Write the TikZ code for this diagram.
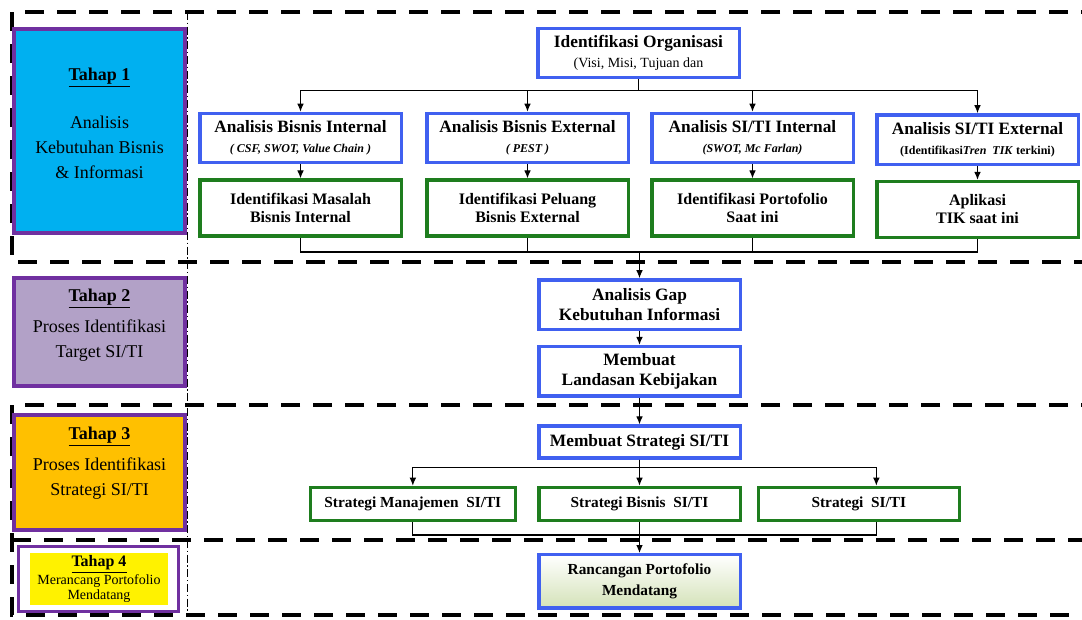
\documentclass[tikz,border=0pt]{standalone}
\usepackage{fontspec}
\setmainfont{Liberation Serif}
\usepackage{xcolor}
\usepackage{tikz}
\usetikzlibrary{arrows.meta,calc,positioning}
\definecolor{boxblue}{RGB}{64,96,240}
\definecolor{boxgreen}{RGB}{30,125,30}
\definecolor{stagepurple}{RGB}{112,48,160}
\definecolor{stagecyan}{RGB}{0,176,240}
\definecolor{stagelilac}{RGB}{178,161,199}
\definecolor{stageorange}{RGB}{255,192,0}
\definecolor{rancgreen}{RGB}{212,226,184}
\newcommand{\subnote}[1]{{\fontsize{9}{11}\selectfont #1}}
\tikzset{
    x=0.75pt, y=-0.75pt,
    conn/.style={-{Latex[length=6pt,width=5pt]}, line width=0.8pt},
    link/.style={line width=0.8pt},
    frame/.style={line width=3pt, dash pattern=on 14pt off 10pt},
    divider/.style={line width=0.6pt, dash pattern=on 6pt off 2pt on 1pt off 2pt},
    bluebox/.style={draw=boxblue, line width=2.5pt, fill=white, align=center, inner sep=1pt,
        minimum width=151pt, minimum height=37pt, font=\bfseries\fontsize{13}{15}\selectfont},
    greenbox/.style={draw=boxgreen, line width=2.5pt, fill=white, align=center, inner sep=1pt,
        minimum width=151pt, minimum height=42pt, font=\bfseries\fontsize{12}{13.5}\selectfont},
    stagebox/.style={draw=stagepurple, line width=2.8pt, minimum width=128.5pt},
    stagetext/.style={align=center, font=\fontsize{13.5}{18.5}\selectfont}
}
\begin{document}
\begin{tikzpicture}
    \useasboundingbox (0,0) rectangle (1082,619);

    % dashed stage frames
    \draw[divider] (187,12) -- (187,615);
    \draw[frame] (1100,12) -- (12,12) -- (12,262) -- (1100,262);
    \draw[frame] (1100,405) -- (12,405) -- (12,615) -- (1100,615);
    \draw[frame] (12,540) -- (1100,540);

    % stages on the left
    \node[stagebox, fill=stagecyan, minimum height=153pt] (t1) at (99.5,131) {};
    \node[stagetext] (t1txt) at (99.5,123)
        {\underline{\textbf{Tahap 1}}\\[18pt]Analisis\\Kebutuhan Bisnis\\\& Informasi};
    \node[stagebox, fill=stagelilac, minimum height=81pt] (t2) at (99.5,332) {};
    \node[stagetext] (t2txt) at (99.5,325)
        {\underline{\textbf{Tahap 2}}\\[5pt]Proses Identifikasi\\Target SI/TI};
    \node[stagebox, fill=stageorange, minimum height=86pt] (t3) at (99.5,472.5) {};
    \node[stagetext] (t3txt) at (99.5,463)
        {\underline{\textbf{Tahap 3}}\\[5pt]Proses Identifikasi\\Strategi SI/TI};
    \node[stagebox, line width=2pt, fill=white, minimum width=120pt, minimum height=49pt] (t4) at (98.5,579) {};
    \node[fill=yellow, align=center, inner sep=0pt, minimum width=103.5pt, minimum height=39pt,
        font=\fontsize{10.5}{11.5}\selectfont] (t4txt) at (99,579)
        {{\fontsize{12}{12}\selectfont\underline{\textbf{Tahap 4}}}\\Merancang Portofolio\\Mendatang};

    % tahap 1
    \node[bluebox] (org) at (638.5,53)
        {Identifikasi Organisasi\\{\mdseries\fontsize{10.5}{12}\selectfont (Visi, Misi, Tujuan dan}};
    \node[bluebox] (abi) at (300.5,138)
        {Analisis Bisnis Internal\\\subnote{\textit{( CSF, SWOT, Value Chain )}}};
    \node[bluebox] (abe) at (527.5,138)
        {Analisis Bisnis External\\\subnote{\textit{( PEST )}}};
    \node[bluebox] (asi) at (752.5,138)
        {Analisis SI/TI Internal\\\subnote{\textit{(SWOT, Mc Farlan)}}};
    \node[bluebox] (ase) at (977.5,139.5)
        {Analisis SI/TI External\\\subnote{(Identifikasi\textit{Tren\ \ TIK} terkini)}};
    \node[greenbox] (imbi) [below=10.5pt of abi] {Identifikasi Masalah\\Bisnis Internal};
    \node[greenbox] (ipbe) [below=10.5pt of abe] {Identifikasi Peluang\\Bisnis External};
    \node[greenbox] (ipsi) [below=10.5pt of asi] {Identifikasi Portofolio\\Saat ini};
    \node[greenbox] (apl) [below=10.5pt of ase] {Aplikasi\\TIK saat ini};

    % tahap 2
    \node[bluebox] (gap) at (639.5,304.5) {Analisis Gap\\Kebutuhan Informasi};
    \node[bluebox] (landasan) [below=10.5pt of gap] {Membuat\\Landasan Kebijakan};

    % tahap 3
    \node[bluebox, minimum height=24pt] (strat) at (639.5,442) {Membuat Strategi SI/TI};
    \node[greenbox, minimum height=25pt, font=\bfseries\fontsize{11.5}{13}\selectfont] (sbis)
        [below=19.5pt of strat] {Strategi Bisnis\ \ SI/TI};
    \node[greenbox, minimum width=154pt, minimum height=25pt, font=\bfseries\fontsize{11.5}{13}\selectfont] (smgt)
        [left=15pt of sbis] {Strategi Manajemen\ \ SI/TI};
    \node[greenbox, minimum height=25pt, font=\bfseries\fontsize{11.5}{13}\selectfont] (ssiti)
        [right=11pt of sbis] {Strategi\ \ SI/TI};

    % tahap 4
    \node[bluebox, minimum height=40pt, top color=white, bottom color=rancgreen,
        font=\bfseries\fontsize{11.5}{16}\selectfont] (ranc) [below=23pt of sbis]
        {Rancangan Portofolio\\Mendatang};

    % connectors
    \draw[conn] (org.south) -- ++(0,11) -| (abi.north);
    \draw[conn] (org.south) -- ++(0,11) -| (abe.north);
    \draw[conn] (org.south) -- ++(0,11) -| (asi.north);
    \draw[conn] (org.south) -- ++(0,11) -| (ase.north);

    \draw[conn] (abi) -- (imbi);
    \draw[conn] (abe) -- (ipbe);
    \draw[conn] (asi) -- (ipsi);
    \draw[conn] (ase) -- (apl);

    \coordinate (join1) at (639.5,252);
    \draw[link] (imbi.south) |- (join1);
    \draw[link] (ipbe.south) |- (join1);
    \draw[link] (ipsi.south) |- (join1);
    \draw[link] (apl.south) |- (join1);
    \draw[conn] (join1) -- (gap.north);

    \draw[conn] (gap) -- (landasan);
    \draw[conn] (landasan) -- (strat);

    \draw[conn] (strat.south) -- ++(0,8) -| (smgt.north);
    \draw[conn] (strat) -- (sbis);
    \draw[conn] (strat.south) -- ++(0,8) -| ($(ssiti.north)+(17.5,0)$);

    \coordinate (join2) at (639.5,535);
    \draw[link] (smgt.south) |- (join2);
    \draw[link] (sbis.south) -- (join2);
    \draw[link] ($(ssiti.south)+(17.5,0)$) |- (join2);
    \draw[conn] (join2) -- (ranc.north);
\end{tikzpicture}
\end{document}
